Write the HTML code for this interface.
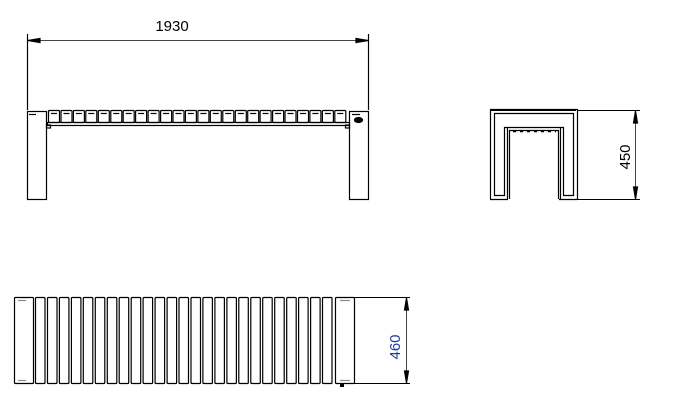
<!DOCTYPE html>
<html><head><style>body{margin:0;background:#fff}svg{display:block}</style></head><body>
<svg width="686" height="416" viewBox="0 0 686 416" xmlns="http://www.w3.org/2000/svg" font-family="Liberation Sans, sans-serif">
<g stroke="#000" fill="none" stroke-width="1.2">
<line x1="27.5" y1="34" x2="27.5" y2="110"/><line x1="368.5" y1="34" x2="368.5" y2="110"/>
<line x1="28" y1="40.5" x2="368" y2="40.5" stroke="#444" stroke-width="1"/>
<path d="M28 40.5 L40 38.5 L40 42.5Z M368 40.5 L356 38.5 L356 42.5Z" fill="#000"/>
<rect x="27.5" y="111.5" width="19" height="88"/>
<rect x="349.5" y="111.5" width="19" height="88"/>
<line x1="29" y1="114.5" x2="36" y2="114.5"/><line x1="352" y1="114.5" x2="360" y2="114.5"/>
<ellipse cx="358.5" cy="120" rx="4" ry="2.5" fill="#000"/>
<rect x="47.5" y="122.5" width="302" height="3"/>
<rect x="46.5" y="125" width="4" height="3"/><rect x="345.5" y="125" width="4" height="3"/>
<g id="fs"></g>
<path d="M490.5 199 V109.5 H577.5 V199 M490 199.5 H508 M559 199.5 H577"/>
<path d="M494.5 195.5 V113.5 H573.5 V195.5 H563.5 V127.5 H504.5 V195.5 Z"/>
<path d="M507.5 199 V127.5 M560.5 199 V127.5"/>
<path d="M509.5 199 V130.5 H558.5 V199"/>
<line x1="491" y1="110" x2="576" y2="110" stroke-width="2"/>
<line x1="513" y1="131.5" x2="556" y2="131.5" stroke-dasharray="3 4" stroke-width="1.5"/>
<line x1="577" y1="110.5" x2="640" y2="110.5" stroke-width="1"/><line x1="577" y1="199.5" x2="640" y2="199.5" stroke-width="1"/>
<line x1="635.5" y1="111" x2="635.5" y2="199" stroke="#444" stroke-width="1"/>
<path d="M635.5 111 L633.5 123 L637.5 123Z M635.5 199 L633.5 187 L637.5 187Z" fill="#000"/>
<rect x="14.5" y="297.5" width="19" height="86" rx="1"/>
<rect x="335.5" y="297.5" width="19" height="86" rx="1"/>
<line x1="18" y1="300.5" x2="26" y2="300.5" stroke="#888"/><line x1="18" y1="380.5" x2="26" y2="380.5" stroke="#888"/>
<line x1="340" y1="300.5" x2="350" y2="300.5" stroke="#888"/><line x1="340" y1="380.5" x2="350" y2="380.5" stroke="#888"/>
<g id="ts"></g>
<line x1="354" y1="297.5" x2="410" y2="297.5" stroke-width="1"/><line x1="354" y1="383.5" x2="410" y2="383.5" stroke-width="1"/>
<line x1="406.5" y1="298" x2="406.5" y2="383" stroke="#444" stroke-width="1"/>
<path d="M406.5 298 L404.5 310 L408.5 310Z M406.5 383 L404.5 371 L408.5 371Z" fill="#000"/>
<rect x="340" y="384" width="4" height="3" fill="#000" stroke="none"/>
</g>
<text x="172" y="31" font-size="15" text-anchor="middle" fill="#000">1930</text>
<text transform="translate(630 157) rotate(-90)" font-size="15" text-anchor="middle" fill="#000">450</text>
<text transform="translate(400 347) rotate(-90)" font-size="15" text-anchor="middle" fill="#1a3a9a">460</text>
<script>
var ns="http://www.w3.org/2000/svg",fs=document.getElementById("fs"),ts=document.getElementById("ts");
for(var i=0;i<24;i++){var x=48+i*12.45;var r=document.createElementNS(ns,"rect");r.setAttribute("x",(x+0.5).toFixed(1));r.setAttribute("y","110.5");r.setAttribute("width","11");r.setAttribute("height","12");r.setAttribute("rx","1");fs.appendChild(r);
var l=document.createElementNS(ns,"line");l.setAttribute("x1",(x+3).toFixed(1));l.setAttribute("x2",(x+9).toFixed(1));l.setAttribute("y1","113.5");l.setAttribute("y2","113.5");fs.appendChild(l);}
for(var j=0;j<25;j++){var x2=35.5+j*11.96;var t=document.createElementNS(ns,"rect");t.setAttribute("x",x2.toFixed(1));t.setAttribute("y","297.5");t.setAttribute("width","9.5");t.setAttribute("height","86");t.setAttribute("rx","1");ts.appendChild(t);}
</script>
</svg>
</body></html>
